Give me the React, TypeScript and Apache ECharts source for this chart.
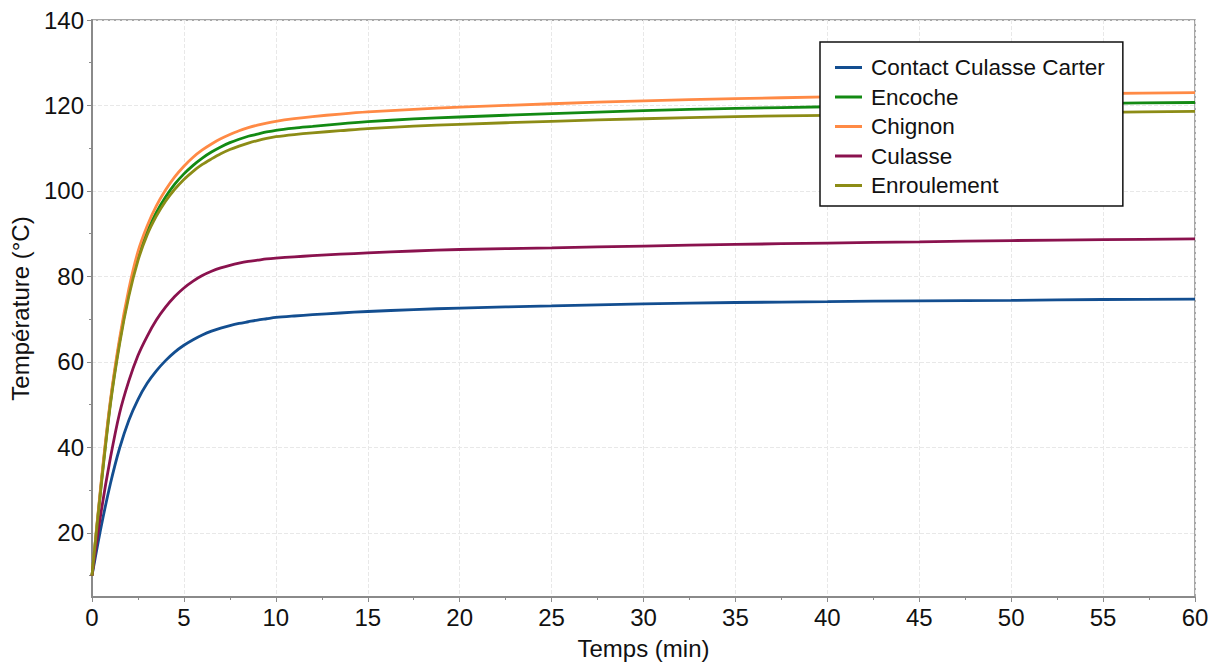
import React, { useEffect, useRef } from "react";
import * as echarts from "echarts";

const timeMin = [0, 0.5, 1, 1.5, 2, 2.5, 3, 3.5, 4, 4.5, 5, 5.5, 6, 6.5, 7, 7.5, 8, 8.5, 9, 9.5, 10, 11, 12, 13.5, 15, 17.5, 20, 25, 30, 35, 40, 45, 50, 55, 60];

const contactCulasseCarter = [10, 21.5, 31.5, 39.8, 46.3, 51.2, 55, 57.9, 60.3, 62.3, 63.9, 65.2, 66.3, 67.2, 67.9, 68.5, 69, 69.4, 69.8, 70.1, 70.4, 70.75, 71.05, 71.45, 71.8, 72.25, 72.6, 73.1, 73.6, 73.9, 74.1, 74.3, 74.4, 74.6, 74.7];
const encoche = [10, 31.5, 50.5, 64.8, 76, 84.5, 90.5, 95, 98.6, 101.6, 104, 106, 107.7, 109.1, 110.3, 111.3, 112.1, 112.8, 113.3, 113.8, 114.2, 114.7, 115.1, 115.7, 116.2, 116.85, 117.3, 118.1, 118.8, 119.3, 119.7, 120.0, 120.3, 120.5, 120.7];
const chignon = [10, 32, 51, 65.5, 77, 85.8, 91.8, 96.5, 100.2, 103.3, 105.8, 107.9, 109.6, 111, 112.2, 113.2, 114.1, 114.8, 115.4, 115.9, 116.3, 116.9, 117.4, 118.0, 118.5, 119.1, 119.6, 120.4, 121.1, 121.6, 122.0, 122.3, 122.6, 122.8, 123.0];
const culasse = [10, 25, 37.5, 48, 55.5, 61.5, 66, 69.8, 72.8, 75.3, 77.3, 78.9, 80.2, 81.2, 82, 82.6, 83.1, 83.5, 83.8, 84.1, 84.3, 84.6, 84.85, 85.2, 85.5, 85.95, 86.3, 86.7, 87.1, 87.5, 87.8, 88.1, 88.4, 88.6, 88.8];
const enroulement = [10, 31, 50, 64.2, 75.3, 83.7, 89.7, 94.1, 97.6, 100.4, 102.7, 104.6, 106.2, 107.5, 108.7, 109.7, 110.5, 111.2, 111.8, 112.3, 112.7, 113.2, 113.6, 114.1, 114.6, 115.15, 115.6, 116.3, 116.9, 117.4, 117.7, 118.0, 118.2, 118.4, 118.6];

const yMajorTicks = [20, 40, 60, 80, 100, 120, 140];
const yMinorTicks = [10, 30, 50, 70, 90, 110, 130];

const seriesNames = ["Contact Culasse Carter", "Encoche", "Chignon", "Culasse", "Enroulement"];
const seriesValues = [contactCulasseCarter, encoche, chignon, culasse, enroulement];
const seriesColors = ["#134e90", "#138a13", "#ff8a45", "#8a124e", "#8c8c16"];

const FONT = "'Liberation Sans', Arial, sans-serif";
const AXIS_COLOR = "#8a8a8a";

export default function App() {
  const ref = useRef<HTMLDivElement>(null);

  useEffect(() => {
    if (!ref.current) return;
    const chart = echarts.init(ref.current, undefined, { renderer: "svg" });

    const series = seriesNames.map((name, i) => ({
      name,
      type: "line",
      data: timeMin.map((t, j) => [t, seriesValues[i][j]]),
      showSymbol: false,
      symbol: "none",
      smooth: 0.3,
      lineStyle: { width: 2.8, color: seriesColors[i] },
      itemStyle: { color: seriesColors[i] },
      yAxisIndex: 0,
    }));

    chart.setOption({
      animation: false,
      backgroundColor: "#ffffff",
      textStyle: { fontFamily: FONT },
      grid: {
        left: 90,
        right: 26,
        top: 20,
        bottom: 69,
        show: true,
        borderColor: AXIS_COLOR,
        borderWidth: 1.5,
        backgroundColor: "transparent",
      },
      legend: {
        orient: "vertical",
        left: 820,
        top: 42,
        data: seriesNames,
        icon: "rect",
        itemWidth: 27,
        itemHeight: 3,
        itemGap: 6.5,
        padding: [14, 18, 9, 15],
        borderColor: "#111111",
        borderWidth: 1.5,
        backgroundColor: "#ffffff",
        textStyle: { fontSize: 22.5, color: "#111111", fontFamily: FONT, lineHeight: 22, padding: [0, 0, 0, 4] },
      },
      xAxis: {
        type: "value",
        min: 0,
        max: 60,
        interval: 5,
        name: "Temps (min)",
        nameLocation: "middle",
        nameGap: 39,
        nameTextStyle: { fontSize: 24, color: "#111111", fontFamily: FONT },
        axisLine: { show: true, lineStyle: { color: AXIS_COLOR, width: 2 } },
        axisTick: { show: true, inside: false, length: 5, lineStyle: { color: AXIS_COLOR, width: 1 } },
        minorTick: { show: true, splitNumber: 2, length: 3, lineStyle: { color: AXIS_COLOR, width: 1 } },
        axisLabel: { fontSize: 24, color: "#111111", margin: 8, fontFamily: FONT },
        splitLine: { show: true, lineStyle: { color: "#e8e8e8", type: "dashed", width: 1 } },
      },
      yAxis: [
        {
          type: "value",
          min: 5,
          max: 140,
          name: "Température (°C)",
          nameLocation: "middle",
          nameGap: 60,
          nameTextStyle: { fontSize: 24, color: "#111111", fontFamily: FONT },
          axisLine: { show: true, lineStyle: { color: AXIS_COLOR, width: 2 } },
          axisTick: { show: true, inside: false, length: 5, customValues: yMajorTicks, lineStyle: { color: AXIS_COLOR, width: 1 } },
          axisLabel: { fontSize: 24, color: "#111111", margin: 8, customValues: yMajorTicks, fontFamily: FONT },
          splitLine: { show: true, lineStyle: { color: "#e8e8e8", type: "dashed", width: 1 } },
        },
        {
          type: "value",
          min: 5,
          max: 140,
          position: "left",
          offset: 0,
          axisLine: { show: false },
          axisTick: { show: true, inside: false, length: 3, customValues: yMinorTicks, lineStyle: { color: AXIS_COLOR, width: 1 } },
          axisLabel: { show: false },
          splitLine: { show: false },
        },
      ],
      series,
    });

    return () => chart.dispose();
  }, []);

  return (
    <div
      ref={ref}
      style={{ position: "fixed", left: 0, top: 0, width: 1221, height: 666, background: "#fff" }}
    />
  );
}
